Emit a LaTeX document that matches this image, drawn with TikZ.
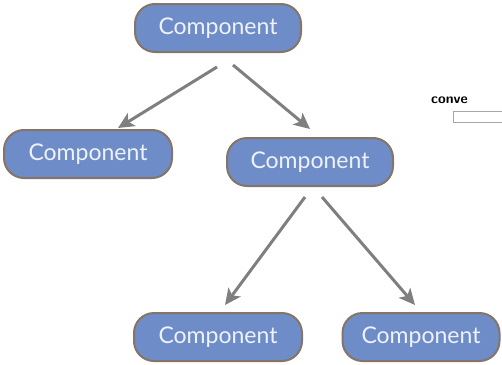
\documentclass[tikz,border=0pt]{standalone}
\usepackage{fontspec}
\setmainfont{Lato}
\usetikzlibrary{arrows.meta}
\definecolor{compfill}{HTML}{6E8DC8}
\definecolor{compedge}{HTML}{857468}
\definecolor{comptext}{HTML}{EEF2FA}
\definecolor{arrowgray}{HTML}{7F7F7F}
\tikzset{
  comp/.style={draw=compedge, fill=compfill, line width=2pt, rounded corners=20pt,
    minimum height=48pt, inner sep=0pt, text=comptext, font=\fontsize{23}{23}\selectfont},
  link/.style={draw=arrowgray, line width=3pt, -{Stealth[length=16pt,width=15pt,inset=4pt]}}
}
\begin{document}
\begin{tikzpicture}[x=1pt,y=-1pt]
\useasboundingbox (0,0) rectangle (502,364);
\node[comp, minimum width=166pt] (top) at (218,28) {Component};
\node[comp, minimum width=168pt] (left) at (88,154) {Component};
\node[comp, minimum width=166pt] (mid) at (310,162) {Component};
\node[comp, minimum width=168pt] (bl) at (218,337) {Component};
\node[comp, minimum width=157pt] (br) at (421,337) {Component};
\coordinate (t1) at (217,67);
\coordinate (t2) at (233,65);
\coordinate (l1) at (118,128);
\coordinate (m1) at (310,129);
\coordinate (m2) at (305,197);
\coordinate (m3) at (322,197);
\coordinate (b1) at (225,305);
\coordinate (b2) at (415,305);
\draw[link] (t1) -- (l1);
\draw[link] (t2) -- (m1);
\draw[link] (m2) -- (b1);
\draw[link] (m3) -- (b2);
\node[font=\sffamily\bfseries\fontsize{14}{14}\selectfont, anchor=west, inner sep=0pt] (conv) at (431,100) {conve};
\node[draw=gray!70, line width=1pt, fill=white, minimum width=60pt, minimum height=11pt, inner sep=0pt, anchor=north west] (field) at (453,111) {};
\end{tikzpicture}
\end{document}
